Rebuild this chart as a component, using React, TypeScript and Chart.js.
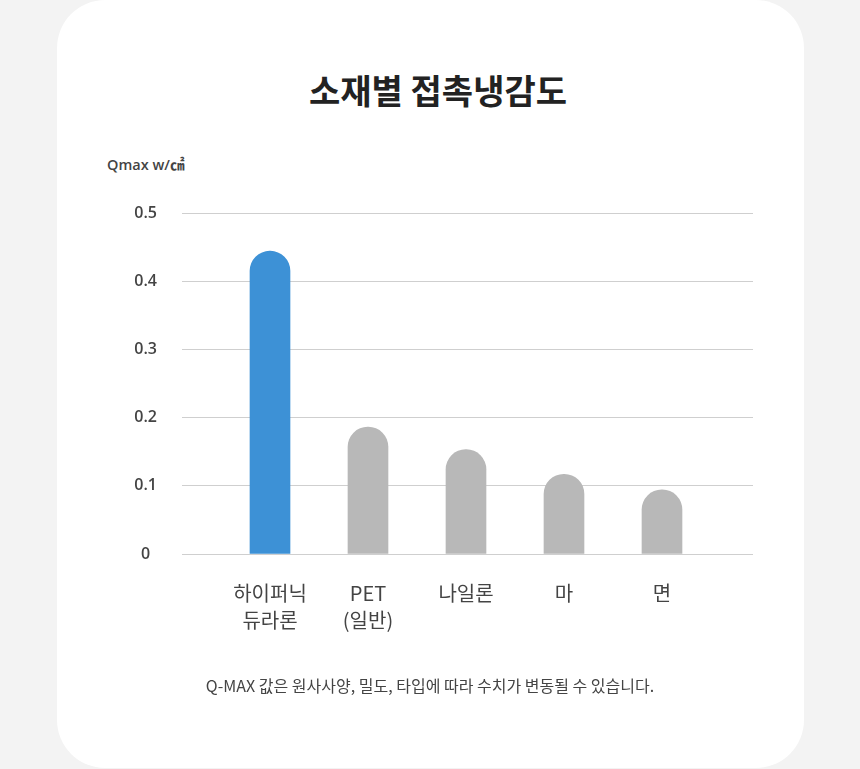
import React, { useEffect, useRef } from 'react';
import Chart from 'chart.js/auto';

const materials: (string | string[])[] = [['하이퍼닉', '듀라론'], ['PET', '(일반)'], '나일론', '마', '면'];
const qmaxValues = [0.444, 0.186, 0.153, 0.117, 0.094];
const barColors = ['#3d91d6', '#b8b8b8', '#b8b8b8', '#b8b8b8', '#b8b8b8'];
const yTicks = { min: 0, max: 0.5, step: 0.1 };

const KR_FONT = '"Noto Sans CJK KR", "Noto Sans", sans-serif';

const App: React.FC = () => {
  const chartRef = useRef<HTMLCanvasElement>(null);
  const chartInstance = useRef<Chart | null>(null);

  useEffect(() => {
    if (!chartRef.current) return;
    if (chartInstance.current) chartInstance.current.destroy();

    const ctx = chartRef.current.getContext('2d');
    if (!ctx) return;

    chartInstance.current = new Chart(ctx, {
      type: 'bar',
      data: {
        labels: materials,
        datasets: [
          {
            label: 'Qmax',
            data: qmaxValues,
            backgroundColor: barColors,
            barThickness: 40,
            borderRadius: { topLeft: 20, topRight: 20, bottomLeft: 0, bottomRight: 0 },
            borderSkipped: 'start'
          }
        ]
      },
      options: {
        animation: false,
        responsive: false,
        layout: {
          padding: { top: 213, bottom: 115, left: 0, right: 0 }
        },
        scales: {
          x: {
            offset: true,
            grid: { display: false, drawTicks: false },
            border: { display: false },
            ticks: {
              color: '#444',
              padding: 26,
              maxRotation: 0,
              autoSkip: false,
              font: { family: KR_FONT, size: 20, lineHeight: '27px' }
            },
            afterFit: (scale) => {
              scale.height = 100;
            }
          },
          y: {
            position: 'left',
            min: yTicks.min,
            max: yTicks.max,
            grid: { color: '#cfcfcf', tickLength: 39, lineWidth: 1 },
            border: { display: false },
            ticks: {
              stepSize: yTicks.step,
              color: '#444',
              padding: 25,
              crossAlign: 'center',
              font: { family: '"Open Sans", sans-serif', size: 16, weight: 600 }
            },
            afterFit: (scale) => {
              scale.width = 221;
            }
          },
          y2: {
            position: 'right',
            min: yTicks.min,
            max: yTicks.max,
            grid: { color: '#cfcfcf', tickLength: 42, drawOnChartArea: false },
            border: { display: false },
            ticks: { stepSize: yTicks.step, display: false },
            afterFit: (scale) => {
              scale.width = 149;
            }
          }
        },
        plugins: {
          legend: { display: false },
          tooltip: { enabled: false }
        }
      }
    });

    return () => {
      if (chartInstance.current) {
        chartInstance.current.destroy();
        chartInstance.current = null;
      }
    };
  }, []);

  return (
    <div
      style={{
        position: 'absolute',
        left: 0,
        top: 0,
        width: 860,
        height: 769,
        background: '#f3f3f3',
        overflow: 'hidden',
        fontFamily: KR_FONT
      }}
    >
      <div
        style={{
          position: 'absolute',
          left: 57,
          top: 0,
          width: 747,
          height: 768,
          background: '#fff',
          borderRadius: 48
        }}
      />
      <div
        style={{
          position: 'absolute',
          left: 238,
          top: 67,
          width: 400,
          textAlign: 'center',
          fontSize: 34,
          fontWeight: 700,
          color: '#222',
          lineHeight: '46px'
        }}
      >
        소재별 접촉냉감도
      </div>
      <div
        style={{
          position: 'absolute',
          left: 107,
          top: 155,
          fontFamily: '"Open Sans", "Noto Sans CJK KR", sans-serif',
          fontSize: 14.5,
          fontWeight: 600,
          color: '#444',
          lineHeight: '20px'
        }}
      >
        Qmax w/㎠
      </div>
      <canvas
        ref={chartRef}
        width={860}
        height={769}
        style={{ position: 'absolute', left: 0, top: 0, width: 860, height: 769 }}
      />
      <div
        style={{
          position: 'absolute',
          left: 0,
          top: 674,
          width: 860,
          textAlign: 'center',
          fontSize: 16,
          color: '#444',
          lineHeight: '22px'
        }}
      >
        Q-MAX 값은 원사사양, 밀도, 타입에 따라 수치가 변동될 수 있습니다.
      </div>
    </div>
  );
};

export default App;
